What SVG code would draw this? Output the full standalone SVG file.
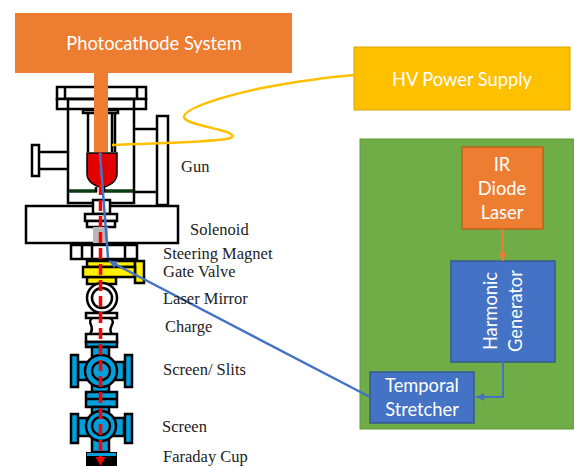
<svg xmlns="http://www.w3.org/2000/svg" width="574" height="466" viewBox="0 0 574 466">
<style>
.l{fill:#fff;stroke:#000;stroke-width:2.500}
.o{fill:none;stroke:#000;stroke-width:2.500}
.b{fill:#00a0dc;stroke:#000;stroke-width:2.500}
.y{fill:#ffef00;stroke:#000;stroke-width:2.500}
.s{font-family:"Liberation Serif",serif;font-size:16.500px;fill:#222}
.w{font-family:Lato,"Liberation Sans",sans-serif;fill:#fff;text-anchor:middle;font-size:18.300px}
</style>
<defs>
<marker id="ao" markerWidth="10" markerHeight="8" refX="8" refY="4" orient="auto" markerUnits="userSpaceOnUse"><path d="M0 0L8 4L0 8z" fill="#ed7d31"/></marker>
<marker id="ab" markerWidth="10" markerHeight="8" refX="8" refY="4" orient="auto" markerUnits="userSpaceOnUse"><path d="M0 0L8 4L0 8z" fill="#4472c4"/></marker>
</defs>
<rect width="574" height="466" fill="#fff"/>
<g id="gun">
<rect class="l" x="57" y="87" width="89" height="12"/>
<rect class="l" x="57" y="99" width="89" height="10"/>
<path class="o" d="M65 87V99M137 87V99"/>
<rect class="o" x="68" y="99" width="66" height="104"/>
<rect class="l" x="83" y="110" width="35" height="3"/>
<path class="o" d="M88 113V152M115 113V152M112 113V152"/>
<rect class="l" x="157" y="116" width="11" height="89"/>
<path class="o" d="M134 129H157M134 192H157"/>
<rect class="l" x="32" y="145" width="7" height="31"/>
<path class="o" d="M39 152H68M39 169H68"/>
<path d="M87 153H117V174C117 182 108 187 102 187C96 187 87 182 87 174Z" fill="#e00000" stroke="#000" stroke-width="1.500"/>
<path d="M69 191H97M103 191H133" stroke="#0b3d12" stroke-width="3.500" fill="none"/>
<path class="o" d="M96 187V192M104 187V192"/>
</g>
<g id="solenoid">
<rect class="l" x="26" y="206" width="152" height="37"/>
<rect class="l" x="93" y="200" width="17" height="14"/>
<rect class="l" x="85" y="214" width="32" height="7"/>
<rect class="l" x="87" y="221" width="28" height="6"/>
<rect x="93" y="227" width="15" height="16" fill="#b8b8b8"/>
</g>
<g id="steering-magnet">
<rect class="l" x="71" y="245" width="66" height="14"/>
<path class="o" d="M82 245V259M92 245V259M125 245V259"/>
</g>
<g id="gate-valve">
<rect class="y" x="87" y="261" width="48" height="6"/>
<rect class="y" x="135" y="261" width="9" height="22"/>
<rect class="y" x="87" y="277" width="29" height="7"/>
<rect class="y" x="83" y="267" width="52" height="10"/>
</g>
<g id="laser-mirror">
<circle class="l" cx="102" cy="298" r="15"/>
<circle class="l" cx="102" cy="298" r="10"/>
<rect class="l" x="86" y="313" width="31" height="5"/>
<path class="o" d="M92 318C86 323 96 326 90 334M110 318C118 323 106 327 112 334"/>
</g>
<g id="screen-slits">
<rect class="l" x="86" y="334" width="31" height="8"/>
<rect class="b" x="86" y="342" width="31" height="5"/>
<rect class="b" x="92" y="347" width="17" height="45"/>
<rect class="b" x="78" y="362" width="46" height="18"/>
<rect class="b" x="71" y="355" width="7" height="32"/>
<rect class="b" x="125" y="355" width="7" height="32"/>
<circle class="b" cx="101" cy="371" r="16"/>
<circle class="b" cx="101" cy="371" r="9"/>
<rect class="b" x="86" y="392" width="31" height="15"/>
<path class="o" d="M86 399H117"/>
</g>
<g id="screen">
<rect class="b" x="92" y="407" width="17" height="45"/>
<rect class="b" x="78" y="418" width="46" height="18"/>
<rect class="b" x="71" y="414" width="7" height="29"/>
<rect class="b" x="125" y="414" width="7" height="29"/>
<circle class="b" cx="101" cy="426" r="15"/>
<circle class="b" cx="101" cy="426" r="9"/>
</g>
<g id="faraday-cup">
<rect x="86" y="452" width="31" height="14" fill="#000"/>
<rect x="87" y="453" width="29" height="3" fill="#00a0dc"/>
</g>
<g id="photocathode-system">
<rect x="15" y="13" width="277" height="60" fill="#ed7d31"/>
<rect x="94" y="73" width="14" height="79" fill="#ed7d31"/>
<text class="w" x="154" y="50">Photocathode System</text>
</g>
<g id="hv-power-supply">
<rect x="354" y="47" width="216" height="63" fill="#ffc000" stroke="#d9a300"/>
<text class="w" x="462" y="86">HV Power Supply</text>
</g>
<g id="laser-room"><rect x="360" y="139" width="214" height="290" fill="#70ad47" stroke="#5f9a3c"/></g>
<g id="ir-diode-laser">
<rect x="462" y="147" width="81" height="82" fill="#ed7d31" stroke="#b9651f" stroke-width="1.500"/>
<text class="w" x="502" y="171">IR</text><text class="w" x="502" y="195">Diode</text><text class="w" x="502" y="219">Laser</text>
</g>
<g id="harmonic-generator">
<rect x="451" y="261" width="104" height="101" fill="#4472c4" stroke="#35598f" stroke-width="1.500"/>
<text class="w" transform="translate(497,311) rotate(-90)">Harmonic</text>
<text class="w" transform="translate(522,311) rotate(-90)">Generator</text>
</g>
<g id="temporal-stretcher">
<rect x="370" y="372" width="104" height="51" fill="#4472c4" stroke="#35598f" stroke-width="1.500"/>
<text class="w" x="422" y="392">Temporal</text><text class="w" x="422" y="416">Stretcher</text>
</g>
<g id="connectors" fill="none">
<path d="M112 145C150 143 200 143 226 139C238 137 232 133 220 130C200 125 184 122 184 117C184 108 225 96 262 88C300 81 330 77 354 75" stroke="#ffc000" stroke-width="2.500"/>
<path d="M100.500 152V459" stroke="#ff0000" stroke-width="3.500" stroke-dasharray="11 5"/>
<path d="M95.500 457L100.500 465.500L105.500 457Z" fill="#ff0000"/>
<path d="M100 153L108 258" stroke="#4472c4" stroke-width="2.500"/>
<path d="M370 397L109 261" stroke="#4472c4" stroke-width="2.500" marker-end="url(#ab)"/>
<path d="M502.500 229V261" stroke="#ed7d31" stroke-width="2" marker-end="url(#ao)"/>
<path d="M503 362V397H476" stroke="#4472c4" stroke-width="2" marker-end="url(#ab)"/>
</g>
<g id="labels">
<text class="s" x="181" y="172">Gun</text>
<text class="s" x="190" y="235">Solenoid</text>
<text class="s" x="163" y="259">Steering Magnet</text>
<text class="s" x="163" y="277">Gate Valve</text>
<text class="s" x="163" y="304">Laser Mirror</text>
<text class="s" x="165" y="332">Charge</text>
<text class="s" x="163" y="375">Screen/ Slits</text>
<text class="s" x="162" y="432">Screen</text>
<text class="s" x="163" y="462">Faraday Cup</text>
</g>
</svg>
